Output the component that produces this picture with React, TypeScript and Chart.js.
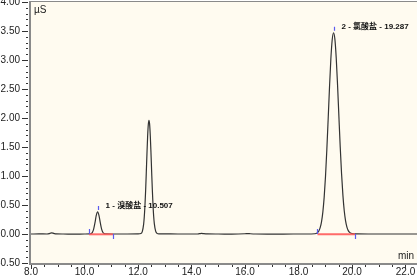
import React, { useEffect, useRef } from "react";
import { Chart, registerables } from "chart.js";

Chart.register(...registerables);

// Retention time (min)
const times = [
  8.0, 8.3, 8.6, 8.68, 8.72, 8.77, 8.82, 8.88, 8.95, 9.2, 9.6, 10.0,
  10.19, 10.24, 10.29, 10.34, 10.39, 10.44, 10.49, 10.54, 10.59, 10.64, 10.69, 10.74, 10.8, 11.0,
  11.6, 12.0, 12.11, 12.16, 12.21, 12.235, 12.26, 12.285, 12.31, 12.335, 12.36, 12.385, 12.41,
  12.435, 12.46, 12.485, 12.51, 12.535, 12.56, 12.585, 12.61, 12.66, 12.71, 12.79, 13.0, 13.5,
  14.0, 14.2, 14.3, 14.38, 14.46, 14.6, 15.0, 15.5, 16.0, 16.11, 16.2, 16.4, 17.0, 17.8, 18.3,
  18.61, 18.71, 18.76, 18.81, 18.86, 18.91, 18.96, 19.01, 19.06, 19.11, 19.16, 19.21, 19.26, 19.31,
  19.36, 19.41, 19.46, 19.51, 19.56, 19.61, 19.66, 19.71, 19.76, 19.81, 19.86, 19.91, 20.01, 20.2,
  20.6, 21.0, 21.5, 22.0, 22.43,
];
// Conductivity (µS)
const signal = [
  0.0, 0.001, 0.0, 0.006, 0.013, 0.02, 0.016, 0.006, 0.001, 0.0, -0.001, 0.0,
  0.001, 0.005, 0.024, 0.08, 0.19, 0.32, 0.38, 0.32, 0.195, 0.085, 0.027, 0.007, 0.002, 0.0,
  0.0, 0.001, 0.008, 0.041, 0.166, 0.296, 0.49, 0.747, 1.06, 1.386, 1.68, 1.885, 1.96,
  1.89, 1.69, 1.4, 1.08, 0.77, 0.51, 0.31, 0.18, 0.048, 0.011, 0.002, 0.001, 0.0,
  0.0, 0.0, 0.006, 0.01, 0.005, 0.001, 0.0, -0.002, 0.004, 0.008, 0.004, 0.0, -0.001, 0.0, 0.0,
  0.004, 0.024, 0.052, 0.109, 0.21, 0.378, 0.636, 0.997, 1.46, 1.99, 2.54, 3.02, 3.35, 3.47,
  3.36, 3.04, 2.57, 2.03, 1.5, 1.04, 0.67, 0.4, 0.225, 0.118, 0.058, 0.028, 0.006, 0.001,
  0.0, 0.0, 0.0, 0.0, 0.0,
];

const peakNames = ["1 - 溴酸盐 - 10.507", "2 - 氯酸盐 - 19.287"];
const peakTimes = [10.49, 19.31];
const peakHeights = [0.38, 3.47];
const peakStarts = [10.17, 18.71];
const peakEnds = [11.06, 20.11];

const xTickValues = [8, 10, 12, 14, 16, 18, 20, 22];
const yTickValues = [-0.5, 0, 0.5, 1, 1.5, 2, 2.5, 3, 3.5, 4];
const xMin = 8;
const xMax = 22.43;
const yMin = -0.5;
const yMax = 4;
const xMinorStep = 0.5;
const yMinorStep = 0.1;
const yUnit = "µS";
const xUnit = "min";

const FONT = '"Liberation Sans", Arial, sans-serif';

const decor = {
  id: "decor",
  beforeDraw(chart: any) {
    const { ctx, chartArea: a } = chart;
    ctx.save();
    ctx.fillStyle = "#ffffff";
    ctx.fillRect(0, 0, chart.width, chart.height);
    ctx.fillStyle = "#FFFBF0";
    ctx.fillRect(a.left, a.top, a.right - a.left, a.bottom - a.top);
    ctx.restore();
  },
  afterDatasetsDraw(chart: any) {
    const { ctx, chartArea: a, scales } = chart;
    const xs = scales.x;
    const ys = scales.y;
    const y0 = ys.getPixelForValue(0);
    ctx.save();

    // integration baselines
    ctx.strokeStyle = "rgba(255,90,90,0.9)";
    ctx.lineWidth = 2;
    peakStarts.forEach((s: number, i: number) => {
      ctx.beginPath();
      ctx.moveTo(xs.getPixelForValue(s), y0 + 0.3);
      ctx.lineTo(xs.getPixelForValue(peakEnds[i]), y0 + 0.3);
      ctx.stroke();
    });

    // markers
    ctx.strokeStyle = "#5b5bef";
    ctx.lineWidth = 1.2;
    peakStarts.forEach((s: number, i: number) => {
      const sx = Math.round(xs.getPixelForValue(s)) + 0.5;
      const ex = Math.round(xs.getPixelForValue(peakEnds[i])) + 0.5;
      const px = Math.round(xs.getPixelForValue(peakTimes[i])) + 0.5;
      const py = ys.getPixelForValue(peakHeights[i]);
      ctx.beginPath();
      ctx.moveTo(sx, y0 - 5);
      ctx.lineTo(sx, y0);
      ctx.moveTo(ex, y0);
      ctx.lineTo(ex, y0 + 5);
      ctx.moveTo(px, py - 6);
      ctx.lineTo(px, py - 2);
      ctx.stroke();
    });

    // peak labels
    ctx.fillStyle = "#111";
    ctx.font = `bold 8px ${FONT}, "Noto Sans CJK SC", sans-serif`;
    ctx.textBaseline = "middle";
    ctx.textAlign = "left";
    peakNames.forEach((n: string, i: number) => {
      const px = xs.getPixelForValue(peakTimes[i]);
      const py = ys.getPixelForValue(peakHeights[i]);
      ctx.fillText(n, px + 8, py - 6);
    });

    // units
    ctx.font = `10px ${FONT}`;
    ctx.fillStyle = "#222";
    ctx.fillText(yUnit, a.left + 3, a.top + 8);
    ctx.fillText(xUnit, a.right - 19, a.bottom - 7);

    // frame
    ctx.strokeStyle = "#8a8a8a";
    ctx.lineWidth = 2;
    ctx.beginPath();
    ctx.moveTo(a.left - 1, a.top - 1);
    ctx.lineTo(a.left - 1, a.bottom + 1);
    ctx.lineTo(a.right, a.bottom + 1);
    ctx.stroke();
    ctx.lineWidth = 1;
    ctx.beginPath();
    ctx.moveTo(a.left - 1, 1.5);
    ctx.lineTo(a.right, 1.5);
    ctx.stroke();

    // tick marks
    ctx.strokeStyle = "#333";
    ctx.lineWidth = 1;
    ctx.beginPath();
    for (let v = yMin; v <= yMax + 1e-9; v += yMinorStep) {
      const yy = Math.round(ys.getPixelForValue(v)) + 0.5;
      const major = yTickValues.some((t) => Math.abs(t - v) < 1e-6);
      ctx.moveTo(a.left - (major ? 9 : 5), yy);
      ctx.lineTo(a.left - 3, yy);
    }
    for (let v = xMin; v <= xMax + 1e-9; v += xMinorStep) {
      const xx = Math.round(xs.getPixelForValue(v)) + 0.5;
      const major = xTickValues.some((t) => Math.abs(t - v) < 1e-6);
      ctx.moveTo(xx, a.bottom + 2);
      ctx.lineTo(xx, a.bottom + (major ? 6 : 4));
    }
    ctx.stroke();
    ctx.restore();
  },
};

export default function App() {
  const ref = useRef<HTMLCanvasElement | null>(null);
  useEffect(() => {
    if (!ref.current) return;
    const chart = new Chart(ref.current, {
      type: "line",
      data: {
        datasets: [
          {
            data: times.map((t, i) => ({ x: t, y: signal[i] })),
            borderColor: "#333333",
            borderWidth: 1.2,
            pointRadius: 0,
            cubicInterpolationMode: "monotone",
            fill: false,
          },
        ],
      },
      options: {
        responsive: false,
        animation: false,
        layout: { padding: { top: 2, left: 0, right: 0, bottom: 0 } },
        plugins: { legend: { display: false }, tooltip: { enabled: false } },
        scales: {
          x: {
            type: "linear",
            min: xMin,
            max: xMax,
            grid: { display: false, drawTicks: false },
            border: { display: false },
            afterBuildTicks: (s: any) => {
              s.ticks = xTickValues.map((v) => ({ value: v }));
            },
            afterFit: (s: any) => {
              s.height = 17;
              s.paddingLeft = 0;
              s.paddingRight = 0;
            },
            ticks: {
              autoSkip: false,
              maxRotation: 0,
              padding: 3,
              color: "#222",
              font: { family: FONT, size: 10 },
              callback: (v: any) => Number(v).toFixed(1),
            },
          },
          y: {
            type: "linear",
            min: yMin,
            max: yMax,
            grid: { display: false, drawTicks: false },
            border: { display: false },
            afterBuildTicks: (s: any) => {
              s.ticks = yTickValues.map((v) => ({ value: v }));
            },
            afterFit: (s: any) => {
              s.width = 31;
              s.paddingTop = 0;
              s.paddingBottom = 0;
            },
            ticks: {
              autoSkip: false,
              padding: 11,
              color: "#222",
              font: { family: FONT, size: 10 },
              callback: (v: any) => Number(v).toFixed(2),
            },
          },
        },
      },
      plugins: [decor],
    } as any);
    return () => chart.destroy();
  }, []);
  return (
    <div style={{ position: "absolute", left: 0, top: 0, width: 417, height: 280 }}>
      <canvas ref={ref} width={417} height={280} style={{ display: "block" }} />
    </div>
  );
}
